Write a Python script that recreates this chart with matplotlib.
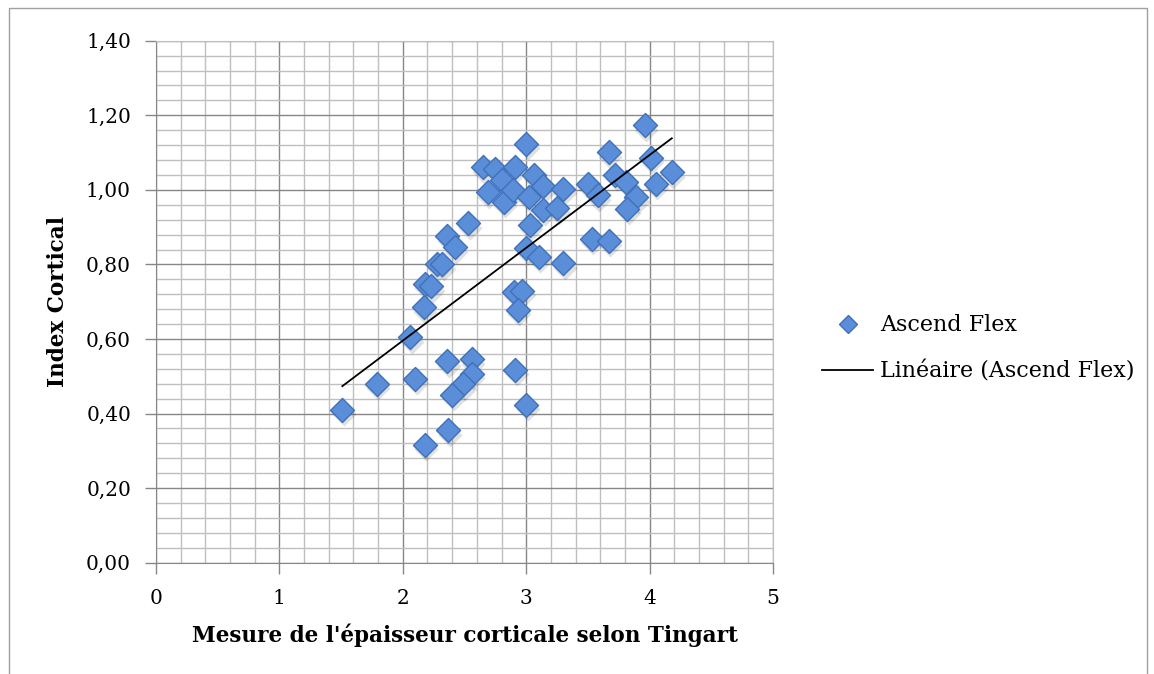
import numpy as np
import matplotlib.pyplot as plt
from matplotlib.lines import Line2D
from matplotlib.ticker import MultipleLocator, FuncFormatter

# Ascend Flex: épaisseur corticale (Tingart) vs index cortical
tingart = [1.51, 1.79, 2.06, 2.10, 2.17, 2.18, 2.23, 2.28, 2.32, 2.36, 2.42, 2.53,
           2.36, 2.56, 2.56, 2.49, 2.40, 2.37, 2.18, 2.91, 3.00,
           2.65, 2.75, 2.91, 2.80, 2.69, 2.82, 2.89, 3.02, 3.06, 3.14, 3.30,
           3.14, 3.25, 3.03, 3.00, 3.10, 3.30, 3.00, 2.90, 2.97, 2.93,
           3.50, 3.58, 3.67, 3.72, 3.81, 3.89, 3.82, 3.96, 4.01, 4.05, 4.18,
           3.53, 3.67]
index_cortical = [0.41, 0.48, 0.605, 0.494, 0.685, 0.748, 0.741, 0.80, 0.80, 0.875, 0.846, 0.911,
                  0.54, 0.545, 0.507, 0.478, 0.45, 0.355, 0.317, 0.518, 0.424,
                  1.06, 1.057, 1.062, 1.027, 0.993, 0.968, 1.00, 0.981, 1.04, 1.01, 1.003,
                  0.946, 0.95, 0.907, 0.843, 0.82, 0.803, 1.123, 0.727, 0.73, 0.679,
                  1.016, 0.985, 1.101, 1.041, 1.021, 0.98, 0.949, 1.173, 1.086, 1.016, 1.047,
                  0.869, 0.864]

x = np.array(tingart)
y = np.array(index_cortical)

plt.rcParams['font.family'] = ['DejaVu Serif']

fig = plt.figure(figsize=(11.54, 6.74), dpi=100)
ax = fig.add_axes([156 / 1154, 1 - 562.7 / 674, (773 - 156) / 1154, (562.7 - 40.7) / 674])

# grid like the spreadsheet chart
ax.set_xlim(0, 5)
ax.set_ylim(0, 1.4)
ax.xaxis.set_major_locator(MultipleLocator(1))
ax.xaxis.set_minor_locator(MultipleLocator(0.2))
ax.yaxis.set_major_locator(MultipleLocator(0.2))
ax.yaxis.set_minor_locator(MultipleLocator(0.04))
ax.grid(which='minor', color='#bfbfbf', linewidth=1.0)
ax.grid(which='major', color='#878787', linewidth=1.0)
ax.set_axisbelow(True)
for side in ['top', 'right']:
    ax.spines[side].set_color('#bfbfbf')
for side in ['left', 'bottom']:
    ax.spines[side].set_color('#878787')
ax.tick_params(which='major', length=8, width=1, color='#878787', labelsize=14.5)
ax.tick_params(axis='x', pad=11)
ax.tick_params(axis='y', pad=10)
ax.tick_params(which='minor', length=0)
ax.yaxis.set_major_formatter(FuncFormatter(lambda v, p: f'{v:.2f}'.replace('.', ',')))

# shadow + diamonds
ax.scatter(x + 0.012, y - 0.012, s=150, marker='D', color='#000000', alpha=0.12,
           linewidths=0, zorder=2)
ax.scatter(x, y, s=150, marker='D', facecolor='#5b8ed8', edgecolor='#3f70b8',
           linewidths=1.0, zorder=3)

# linear trend line
a, b = np.polyfit(x, y, 1)
xs = np.array([x.min(), x.max()])
ax.plot(xs, a * xs + b, color='black', linewidth=1.3, zorder=4)

ax.set_xlabel("Mesure de l'épaisseur corticale selon Tingart", fontsize=15.5,
              fontweight='bold', labelpad=11)
ax.set_ylabel('Index Cortical', fontsize=15.5, fontweight='bold', labelpad=12)

handles = [Line2D([], [], marker='D', linestyle='none', markersize=9,
                  markerfacecolor='#5b8ed8', markeredgecolor='#3f70b8'),
           Line2D([], [], color='black', linewidth=1.3)]
fig.legend(handles, ['Ascend Flex', 'Linéaire (Ascend Flex)'], frameon=False,
           fontsize=16, loc='center left', bbox_to_anchor=(802 / 1154, 1 - 348.5 / 674),
           handlelength=2.3, handletextpad=0.32, labelspacing=1.1)

# outer chart border
fig.add_artist(Line2D([9 / 1154, 9 / 1154, 1147 / 1154, 1147 / 1154],
                      [0, 1 - 8 / 674, 1 - 8 / 674, 0],
                      transform=fig.transFigure, color='#a0a0a0', linewidth=1))

fig.savefig('out.png', dpi=100)
